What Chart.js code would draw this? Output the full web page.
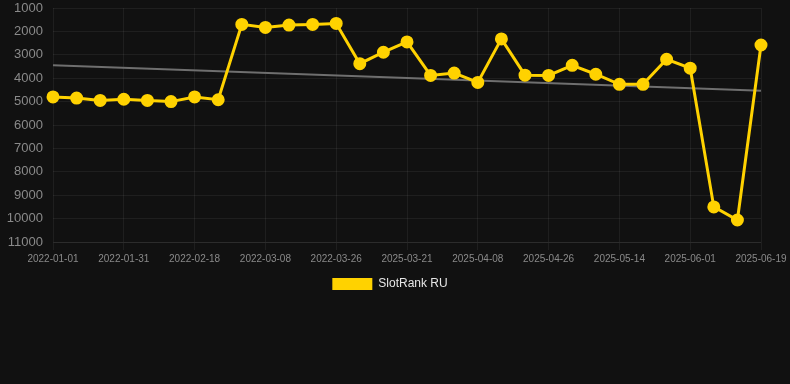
<!DOCTYPE html>
<html>
<head>
<meta charset="utf-8">
<script src="https://cdn.jsdelivr.net/npm/chart.js@4.4.1/dist/chart.umd.min.js"></script>
<style>
    html, body { margin: 0; padding: 0; background: #111111; }
    #wrap { width: 790px; height: 300px; position: relative; }
</style>
</head>
<body>
<div id="wrap"><canvas id="rank_chart"></canvas></div>
<script>
// 日付ラベル（3つおきに表示される）
const dates = [
    '2022-01-01', '2022-01-11', '2022-01-21', '2022-01-31', '2022-02-06', '2022-02-12',
    '2022-02-18', '2022-02-24', '2022-03-02', '2022-03-08', '2022-03-14', '2022-03-20',
    '2022-03-26', '2022-04-01', '2025-03-15', '2025-03-21', '2025-03-27', '2025-04-02',
    '2025-04-08', '2025-04-14', '2025-04-20', '2025-04-26', '2025-05-02', '2025-05-08',
    '2025-05-14', '2025-05-20', '2025-05-26', '2025-06-01', '2025-06-07', '2025-06-13',
    '2025-06-19'
];
// SlotRank RU の順位
const rankValues = [
    4800, 4850, 4950, 4900, 4950, 5000, 4800, 4920, 1700, 1830, 1730, 1700, 1660,
    3380, 2890, 2450, 3880, 3780, 4180, 2320, 3870, 3880, 3450, 3830, 4260, 4260,
    3190, 3570, 9500, 10060, 2580
];
// トレンドライン（始点・終点）
const trendValues = [3450, 4540];
const yTicks = [1000, 2000, 3000, 4000, 5000, 6000, 7000, 8000, 9000, 10000, 11000];

const GOLD = '#ffd200';
const gridColor = 'rgba(255,255,255,0.06)';
const fontFamily = 'Liberation Sans, Arial, sans-serif';

new Chart(document.getElementById('rank_chart').getContext('2d'), {
    type: 'line',
    data: {
        labels: dates,
        datasets: [{
            label: 'SlotRank RU',
            data: rankValues,
            borderColor: GOLD,
            backgroundColor: GOLD,
            borderWidth: 3,
            pointRadius: 5,
            pointBackgroundColor: GOLD,
            pointBorderColor: GOLD,
            tension: 0
        }, {
            label: 'trend',
            data: [
                { x: dates[0], y: trendValues[0] },
                { x: dates[dates.length - 1], y: trendValues[1] }
            ],
            borderColor: '#6f6f6f',
            borderWidth: 2,
            pointRadius: 0,
            fill: false
        }]
    },
    options: {
        responsive: true,
        maintainAspectRatio: false,
        animation: false,
        layout: { padding: { left: 0, right: 10, top: 0, bottom: 0 } },
        plugins: {
            legend: {
                position: 'bottom',
                labels: {
                    color: '#e6e6e6',
                    boxWidth: 40,
                    boxHeight: 12,
                    font: { size: 12, family: fontFamily },
                    filter: (item) => item.text !== 'trend',
                    // 凡例ボックスの枠線を消す
                    generateLabels: (chart) => Chart.defaults.plugins.legend.labels.generateLabels(chart)
                        .map(item => Object.assign(item, { lineWidth: 0 }))
                }
            },
            tooltip: { enabled: false }
        },
        scales: {
            x: {
                afterFit: (axis) => { axis.paddingRight = 29; axis.paddingLeft = 0; },
                grid: { color: gridColor, tickColor: gridColor },
                border: { color: gridColor },
                ticks: {
                    color: '#8a8a8a',
                    autoSkip: true,
                    maxTicksLimit: 11,
                    maxRotation: 0,
                    font: { size: 10, family: fontFamily }
                }
            },
            y: {
                reverse: true,
                min: 1000,
                max: 11000,
                afterBuildTicks: (axis) => { axis.ticks = yTicks.map(v => ({ value: v })); },
                afterFit: (axis) => { axis.width = 53; axis.paddingTop = 4; axis.paddingBottom = 0; },
                grid: { color: gridColor, drawTicks: false },
                border: { display: false },
                ticks: {
                    color: '#8a8a8a',
                    padding: 10,
                    callback: (v) => String(v),
                    font: { size: 13, family: fontFamily }
                }
            }
        }
    }
});
</script>
</body>
</html>
